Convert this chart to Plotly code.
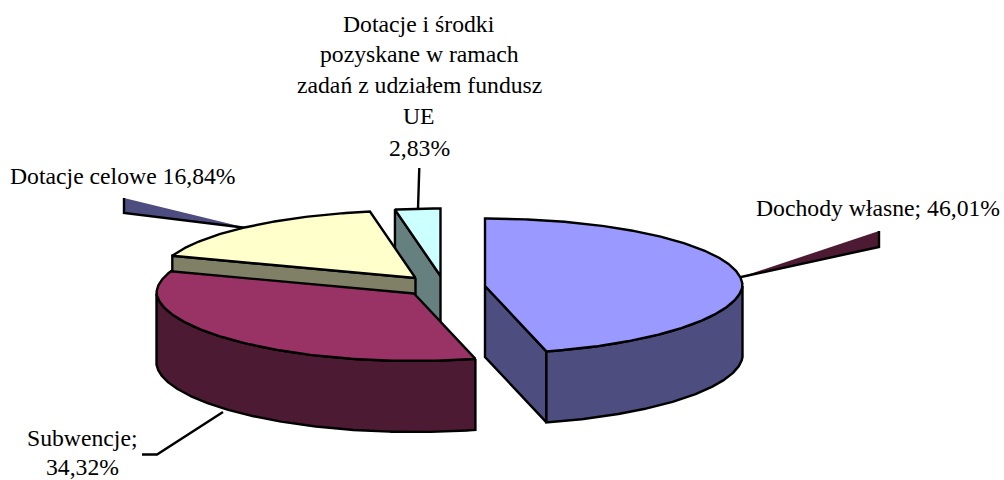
import math
import plotly.graph_objects as go

# --- data ---
categories = ["Dochody własne", "Subwencje", "Dotacje celowe", "Dotacje i środki"]
shares = [46.01, 34.32, 16.84, 2.83]

# --- styling / layout of the 3D pie ---
top_colors = ["#9999FF", "#993366", "#FFFFCC", "#CCFFFF"]
wall_colors = ["#4D4D80", "#4D1A33", "#808066", "#668080"]
apexes = [(485, 286), (414, 293.5), (415.5, 278), (440.5, 276)]
RX, RY, DEPTH, NARROW = 257.5, 67.5, 71, 0.04
LW = 2.4
FONT = dict(family="Liberation Serif, Times New Roman, serif", size=23.7, color="black")

label_lines = [
    ("Dochody własne; 46,01%", 878, 208),
    ("Dotacje celowe 16,84%", 123, 176),
    ("Subwencje;", 82, 438),
    ("34,32%", 82, 467),
    ("Dotacje i środki", 419, 24),
    ("pozyskane w ramach", 419, 54),
    ("zadań z udziałem fundusz", 419, 85),
    ("UE", 419, 116),
    ("2,83%", 419, 148),
]

fig = go.Figure()


def pt(apex, deg):
    t = math.radians(deg)
    dy = -RY * math.cos(t)
    dx = RX * math.sin(t) * (1 - NARROW * max(0.0, dy / RY))
    return apex[0] + dx, apex[1] + dy


def poly(points, fill):
    xs = [p[0] for p in points] + [points[0][0]]
    ys = [p[1] for p in points] + [points[0][1]]
    fig.add_trace(go.Scatter(x=xs, y=ys, mode="lines", fill="toself", fillcolor=fill,
                             line=dict(color="black", width=LW), hoverinfo="skip"))


def polyline(points):
    fig.add_trace(go.Scatter(x=[p[0] for p in points], y=[p[1] for p in points], mode="lines",
                             line=dict(color="black", width=LW), hoverinfo="skip"))


def fill_only(points, fill):
    fig.add_trace(go.Scatter(x=[p[0] for p in points], y=[p[1] for p in points], mode="lines",
                             fill="toself", fillcolor=fill, line=dict(width=0), hoverinfo="skip"))


def arc(apex, a0, a1):
    n = max(2, int(abs(a1 - a0) * 2))
    return [pt(apex, a0 + (a1 - a0) * i / n) for i in range(n + 1)]


def down(points):
    return [(x, y + DEPTH) for x, y in points]


# slice angles come from the shares
angles = [0]
for s in shares:
    angles.append(angles[-1] + s / sum(shares) * 360)


def top(i):
    return [apexes[i]] + arc(apexes[i], angles[i], angles[i + 1])


def cut(i, deg):
    e = [apexes[i], pt(apexes[i], deg)]
    return e + down(e)[::-1]


def wall(i, a0, a1):
    a = arc(apexes[i], a0, a1)
    return a + down(a)[::-1]


# leader lines that sit behind the pie
polyline([(418, 209), (419.3, 168)])
spike_celowe = [(124, 198), (124, 213), (247, 228)]
fill_only(spike_celowe, wall_colors[0])
polyline([(124, 198), (124, 213), (247, 228)])
spike_wlasne = [(741, 277), (879, 231), (879, 247)]
fill_only(spike_wlasne, wall_colors[1])
polyline([(879, 231), (879, 247), (741, 277)])

# back-to-front drawing
poly(cut(3, angles[3]), wall_colors[3])
poly(top(3), top_colors[3])
poly(cut(2, angles[2]), wall_colors[2])
poly(top(2), top_colors[2])
poly(wall(1, angles[1], 270), wall_colors[1])
poly(top(1), top_colors[1])
poly(cut(0, angles[1]), wall_colors[0])
poly(wall(0, 90, angles[1]), wall_colors[0])
poly(top(0), top_colors[0])

polyline([(223, 412), (157, 454.5), (142, 454.5)])

for text, x, y in label_lines:
    fig.add_annotation(x=x, y=y, text=text, showarrow=False, font=FONT,
                       xanchor="center", yanchor="middle")

fig.update_layout(
    width=1004, height=480, margin=dict(l=0, r=0, t=0, b=0),
    paper_bgcolor="white", plot_bgcolor="white", showlegend=False,
    xaxis=dict(range=[0, 1004], visible=False, fixedrange=True),
    yaxis=dict(range=[480, 0], visible=False, fixedrange=True),
)
# let the figure fill the window exactly
fig.write_html("out.html", config={"displayModeBar": False},
               post_script="document.body.style.margin='0';document.body.style.overflow='hidden';")
